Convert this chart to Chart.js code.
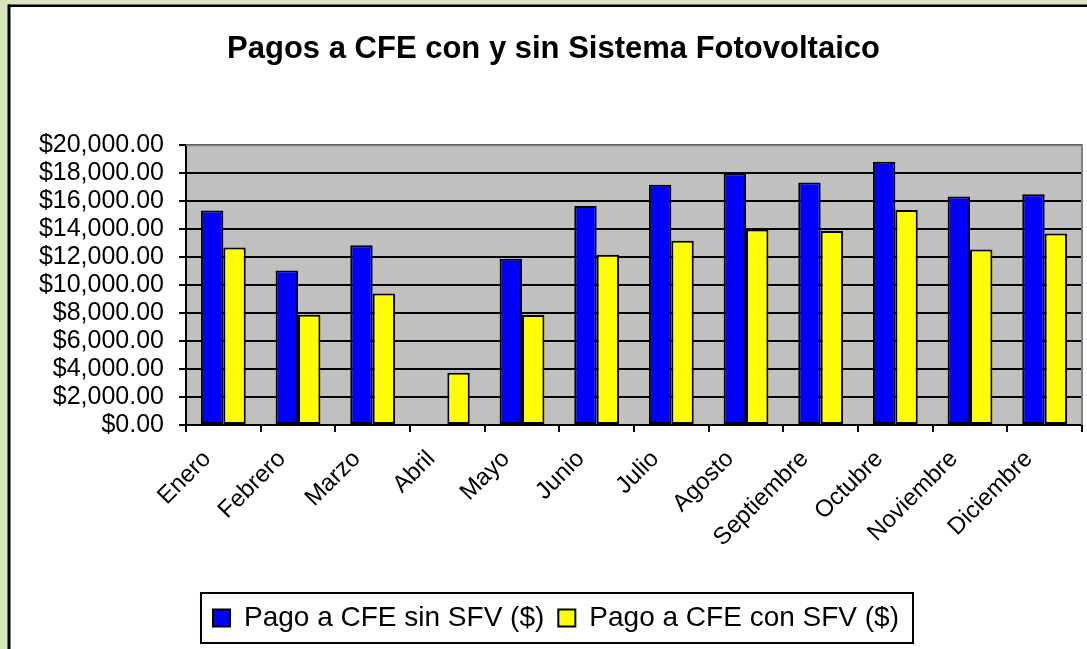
<!DOCTYPE html>
<html><head><meta charset="utf-8">
<script src="https://cdn.jsdelivr.net/npm/chart.js@4.4.1/dist/chart.umd.min.js"></script>
<style>html,body{margin:0;padding:0;background:#D7E4BD;}canvas{display:block;}</style>
</head><body>
<canvas id="c" width="1087" height="649" style="width:1087px;height:649px"></canvas>
<script>
const categories = ['Enero','Febrero','Marzo','Abril','Mayo','Junio','Julio','Agosto','Septiembre','Octubre','Noviembre','Diciembre'];
const sinSFV = [15330, 11050, 12850, 0, 11880, 15650, 17170, 17970, 17330, 18810, 16330, 16500];
const conSFV = [12690, 7880, 9400, 3740, 7860, 12170, 13170, 13980, 13860, 15360, 12550, 13690];
const seriesNames = ['Pago a CFE sin SFV ($)', 'Pago a CFE con SFV ($)'];
const yTickValues = [0, 2000, 4000, 6000, 8000, 10000, 12000, 14000, 16000, 18000, 20000];
const titleText = 'Pagos a CFE con y sin Sistema Fotovoltaico';

const FONT = "'Liberation Sans', Arial, sans-serif";
function fmt(v) {
  const parts = Number(v).toFixed(2).split('.');
  parts[0] = parts[0].replace(/\B(?=(\d{3})+$)/g, ',');
  return '$' + parts.join('.');
}

const framePlugin = {
  id: 'frame',
  afterLayout(chart) {
    if (chart.titleBlock) { chart.titleBlock.left += 25; }
    if (chart.legend) { chart.legend.left += 30; }
  },
  beforeDraw(chart) {
    const ctx = chart.ctx, W = chart.width, H = chart.height;
    ctx.save();
    ctx.fillStyle = '#D7E4BD';
    ctx.fillRect(0, 0, W, H);
    ctx.fillStyle = '#FFFFFF';
    ctx.fillRect(8, 5, W - 8, H - 5);
    ctx.fillStyle = '#000000';
    ctx.fillRect(8, 4.5, W - 8, 2.5);
    ctx.fillRect(7.5, 4.5, 3, H - 4.5);
    const a = chart.chartArea;
    ctx.fillStyle = '#C0C0C0';
    ctx.fillRect(a.left, a.top, a.right - a.left, a.bottom - a.top);
    ctx.restore();
  },
  afterDraw(chart) {
    const ctx = chart.ctx, a = chart.chartArea;
    ctx.save();
    ctx.strokeStyle = '#808080';
    ctx.lineWidth = 2;
    ctx.beginPath();
    ctx.moveTo(a.left, a.top);
    ctx.lineTo(a.right, a.top);
    ctx.lineTo(a.right, a.bottom);
    ctx.stroke();
    const hb = chart.legend && chart.legend.legendHitBoxes;
    if (hb && hb.length) {
      let l = Infinity, r = -Infinity, t = Infinity, b = -Infinity;
      hb.forEach(h => { l = Math.min(l, h.left); r = Math.max(r, h.left + h.width); t = Math.min(t, h.top); b = Math.max(b, h.top + h.height); });
      ctx.strokeStyle = '#000';
      ctx.lineWidth = 2;
      ctx.strokeRect(l - 12, (t + b) / 2 - 25, (r - l) + 26, 50);
    }
    ctx.restore();
  }
};

new Chart(document.getElementById('c'), {
  type: 'bar',
  data: {
    labels: categories,
    datasets: [
      { label: seriesNames[0], data: sinSFV, backgroundColor: '#0000FF', borderColor: '#000000', borderWidth: 2, borderSkipped: false },
      { label: seriesNames[1], data: conSFV, backgroundColor: '#FFFF00', borderColor: '#000000', borderWidth: 2, borderSkipped: false }
    ]
  },
  options: {
    responsive: false,
    animation: false,
    devicePixelRatio: 1,
    layout: { padding: { left: 0, right: 5, top: 0, bottom: 7 } },
    datasets: { bar: { categoryPercentage: 0.6, barPercentage: 1.0 } },
    scales: {
      x: {
        grid: { display: true, drawOnChartArea: false, drawTicks: true, tickLength: 7, color: '#000', lineWidth: 2, offset: true },
        border: { display: true, color: '#000', width: 2 },
        ticks: { color: '#000', font: { family: FONT, size: 24 }, maxRotation: 45, minRotation: 45, autoSkip: false, padding: 13, labelOffset: -16 },
        afterFit(scale) { scale.height = 165; }
      },
      y: {
        min: 0, max: 20000,
        afterBuildTicks(scale) { scale.ticks = yTickValues.map(v => ({ value: v })); },
        grid: { color: '#000', lineWidth: 2, tickLength: 7, drawTicks: true },
        border: { display: true, color: '#000', width: 2 },
        ticks: { color: '#000', font: { family: FONT, size: 25, lineHeight: 1.0 }, padding: 15, autoSkip: false, callback: v => fmt(v) },
        afterFit(scale) { scale.width = 186; }
      }
    },
    plugins: {
      title: { display: true, text: titleText, color: '#000', font: { family: FONT, size: 31, weight: 'bold' }, padding: { top: 31, bottom: 77 } },
      legend: {
        display: true, position: 'bottom',
        labels: { color: '#000', font: { family: FONT, size: 28 }, boxWidth: 17, boxHeight: 17, padding: 14 }
      },
      tooltip: { enabled: false }
    }
  },
  plugins: [framePlugin]
});
</script>
</body></html>
